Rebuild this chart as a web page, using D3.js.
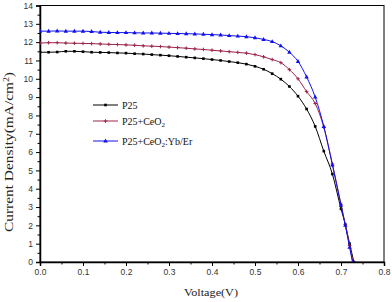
<!DOCTYPE html>
<html>
<head>
<meta charset="utf-8">
<script src="https://cdn.jsdelivr.net/npm/d3@7"></script>
<style>
  body { margin: 0; background: #fff; }
  svg { display: block; }
</style>
</head>
<body>
<svg id="chart" width="392" height="302"></svg>
<script>
// voltage grid (V)
const volts = [0.00, 0.02, 0.04, 0.06, 0.08, 0.10, 0.12, 0.14, 0.16, 0.18,
  0.20, 0.22, 0.24, 0.26, 0.28, 0.30, 0.32, 0.34, 0.36, 0.38,
  0.40, 0.42, 0.44, 0.46, 0.48, 0.50, 0.52, 0.54, 0.56, 0.58,
  0.60, 0.62, 0.64, 0.66, 0.68, 0.70, 0.71, 0.72, 0.73];

// current density (mA/cm2)
const p25 = [11.45, 11.45, 11.46, 11.50, 11.50, 11.48, 11.45, 11.44, 11.43, 11.41,
  11.40, 11.37, 11.35, 11.32, 11.29, 11.26, 11.22, 11.18, 11.14, 11.10,
  11.05, 11.00, 10.94, 10.88, 10.80, 10.68, 10.52, 10.28, 9.98, 9.58,
  9.05, 8.35, 7.40, 6.05, 4.80, 2.90, 2.05, 1.00, 0.00];
const p25Ce = [11.95, 11.97, 11.97, 11.95, 11.94, 11.93, 11.92, 11.90, 11.88, 11.87,
  11.85, 11.83, 11.80, 11.78, 11.76, 11.73, 11.70, 11.67, 11.63, 11.60,
  11.56, 11.52, 11.48, 11.44, 11.40, 11.32, 11.20, 11.05, 10.88, 10.50,
  10.00, 9.30, 8.65, 7.35, 5.35, 3.15, 2.05, 0.90, -0.25];
const p25CeYb = [12.60, 12.60, 12.61, 12.60, 12.60, 12.60, 12.58, 12.54, 12.53, 12.52,
  12.52, 12.51, 12.50, 12.50, 12.49, 12.48, 12.47, 12.46, 12.45, 12.43,
  12.41, 12.39, 12.36, 12.33, 12.30, 12.24, 12.15, 12.03, 11.80, 11.45,
  10.95, 10.10, 9.00, 7.40, 5.30, 3.10, 2.00, 0.80, -0.40];

const xTicks = [0.0, 0.1, 0.2, 0.3, 0.4, 0.5, 0.6, 0.7, 0.8];
const yTicks = [0, 1, 2, 3, 4, 5, 6, 7, 8, 9, 10, 11, 12, 13, 14];

const series = [
  { name: "P25", sub: null, tail: "", values: p25, color: "#000000", marker: "square" },
  { name: "P25+CeO", sub: "2", tail: "", values: p25Ce, color: "#9c2448", marker: "cross" },
  { name: "P25+CeO", sub: "2", tail: ":Yb/Er", values: p25CeYb, color: "#1010ee", marker: "triangle" }
];

const svg = d3.select("#chart");
const box = { left: 40, right: 384, top: 5.5, bottom: 262 };

const x = d3.scaleLinear().domain([0, 0.8]).range([box.left, box.right]);
const y = d3.scaleLinear().domain([0, 14]).range([box.bottom, box.top]);

svg.append("defs").append("clipPath").attr("id", "plot")
  .append("rect")
  .attr("x", box.left).attr("y", box.top)
  .attr("width", box.right - box.left).attr("height", box.bottom - box.top);

// frame
svg.append("rect")
  .attr("x", box.left).attr("y", box.top)
  .attr("width", box.right - box.left).attr("height", box.bottom - box.top)
  .attr("fill", "none").attr("stroke", "#000").attr("stroke-width", 1);

// axes
const xAxis = d3.axisBottom(x).tickValues(xTicks).tickFormat(d3.format(".1f")).tickSize(4).tickPadding(3);
const xMinor = d3.axisBottom(x).tickValues(d3.range(0.05, 0.8, 0.1)).tickFormat("").tickSize(2.5);
const yAxis = d3.axisLeft(y).tickValues(yTicks).tickFormat(d3.format("d")).tickSize(4).tickPadding(3);
const yMinor = d3.axisLeft(y).tickValues(d3.range(0.5, 14, 1)).tickFormat("").tickSize(2.5);

function styleAxis(g) {
  g.select(".domain").attr("stroke-width", 1.5);
  g.selectAll("text").attr("font-family", "Liberation Sans, Arial, sans-serif")
    .attr("font-size", 8.5).attr("fill", "#333");
}

svg.append("g").attr("transform", `translate(0,${box.bottom})`).call(xAxis).call(styleAxis);
svg.append("g").attr("transform", `translate(0,${box.bottom})`).call(xMinor).select(".domain").remove();
svg.append("g").attr("transform", `translate(${box.left},0)`).call(yAxis).call(styleAxis);
svg.append("g").attr("transform", `translate(${box.left},0)`).call(yMinor).select(".domain").remove();

// axis titles
svg.append("text")
  .attr("x", 211).attr("y", 296)
  .attr("text-anchor", "middle")
  .attr("font-family", "Liberation Serif, Times New Roman, serif")
  .attr("font-size", 10.5).attr("fill", "#222")
  .attr("textLength", 54).attr("lengthAdjust", "spacingAndGlyphs")
  .text("Voltage(V)");

const yTitle = svg.append("text")
  .attr("transform", "translate(13,152) rotate(-90)")
  .attr("text-anchor", "middle")
  .attr("font-family", "Liberation Serif, Times New Roman, serif")
  .attr("font-size", 12.5).attr("fill", "#222")
  .attr("textLength", 160).attr("lengthAdjust", "spacingAndGlyphs");
yTitle.append("tspan").text("Current Density(mA/cm");
yTitle.append("tspan").attr("dy", -4.5).attr("font-size", 8).text("2");
yTitle.append("tspan").attr("dy", 4.5).text(")");

// marker drawing
function drawMarker(g, type, color) {
  if (type === "square") {
    g.append("rect").attr("x", -1.3).attr("y", -1.3).attr("width", 2.6).attr("height", 2.6).attr("fill", color);
  } else if (type === "cross") {
    g.append("path").attr("d", "M-1.8,0H1.8M0,-1.8V1.8").attr("stroke", color).attr("stroke-width", 1);
  } else {
    g.append("path").attr("d", "M0,-2.4L2.2,1.5H-2.2Z").attr("fill", color);
  }
}

const line = d3.line()
  .x((d, i) => x(volts[i]))
  .y(d => y(d))
  .curve(d3.curveMonotoneX);

const plot = svg.append("g").attr("clip-path", "url(#plot)");

series.forEach(s => {
  plot.append("path")
    .datum(s.values)
    .attr("fill", "none")
    .attr("stroke", s.color)
    .attr("stroke-width", 1)
    .attr("d", line);
  plot.selectAll(null)
    .data(s.values.map((v, i) => [volts[i], v]).filter(d => d[1] >= 0))
    .join("g")
    .attr("transform", d => `translate(${x(d[0])},${y(d[1])})`)
    .each(function () { drawMarker(d3.select(this), s.marker, s.color); });
});

// legend
const legendY = [105, 121, 141];
series.forEach((s, i) => {
  const g = svg.append("g").attr("transform", `translate(93,${legendY[i]})`);
  g.append("line").attr("x1", 0).attr("x2", 25).attr("stroke", s.color).attr("stroke-width", 1);
  drawMarker(g.append("g").attr("transform", "translate(12.5,0)"), s.marker, s.color);
  const t = g.append("text").attr("x", 29).attr("y", 3.5)
    .attr("font-family", "Liberation Serif, Times New Roman, serif")
    .attr("font-size", 10).attr("fill", "#111");
  t.append("tspan").text(s.name);
  if (s.sub) {
    t.append("tspan").attr("dy", 2.5).attr("font-size", 7).text(s.sub);
    if (s.tail) t.append("tspan").attr("dy", -2.5).text(s.tail);
  }
});
</script>
</body>
</html>
